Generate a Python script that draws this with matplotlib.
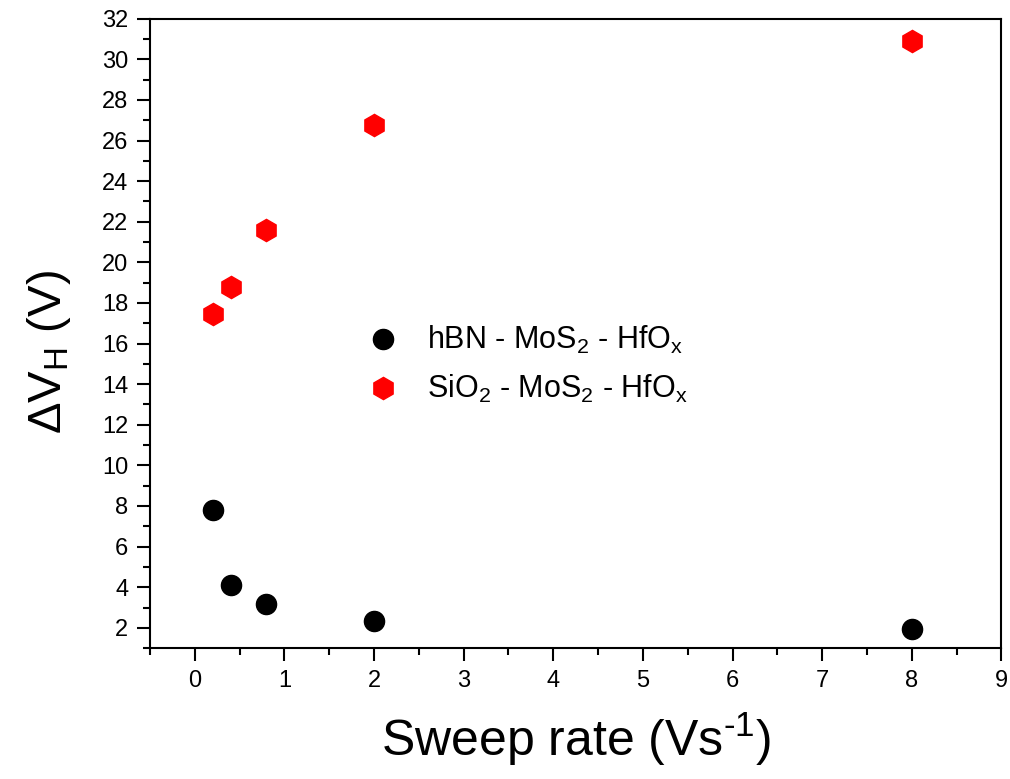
import matplotlib
matplotlib.use("Agg")
import matplotlib.pyplot as plt
from matplotlib.ticker import MultipleLocator

# ---- данные -----------------------------------------------------------------
sweep_rate = [0.2, 0.4, 0.8, 2.0, 8.0]
dv_hbn = [7.8, 4.1, 3.15, 2.35, 1.95]
dv_sio2 = [17.45, 18.8, 21.6, 26.75, 30.9]
label_hbn = r"hBN - MoS$_2$ - HfO$_x$"
label_sio2 = r"SiO$_2$ - MoS$_2$ - HfO$_x$"
# -----------------------------------------------------------------------------

plt.rcParams["font.family"] = ["Liberation Sans", "DejaVu Sans"]
plt.rcParams["mathtext.fontset"] = "custom"
plt.rcParams["mathtext.rm"] = "Liberation Sans"
plt.rcParams["mathtext.it"] = "Liberation Sans"

fig = plt.figure(figsize=(10.1, 7.79), dpi=100)
ax = fig.add_axes([0.1485, 0.168, 0.843, 0.808])

ax.plot(sweep_rate, dv_hbn, "o", color="black", markersize=14.5, label=label_hbn)
ax.plot(sweep_rate, dv_sio2, "h", color="red", markersize=16, label=label_sio2)

ax.set_xlim(-0.5, 9)
ax.set_ylim(1, 32)
ax.xaxis.set_major_locator(MultipleLocator(1))
ax.xaxis.set_minor_locator(MultipleLocator(0.5))
ax.yaxis.set_major_locator(MultipleLocator(2))
ax.yaxis.set_minor_locator(MultipleLocator(1))
ax.tick_params(which="major", direction="out", length=9.5, width=1.5,
               labelsize=17, pad=6)
ax.tick_params(which="minor", direction="out", length=5, width=1.5)
for s in ax.spines.values():
    s.set_linewidth(1.5)

ax.set_xlabel(r"Sweep rate (Vs$^{\text{-1}}$)", fontsize=36)
ax.xaxis.set_label_coords(0.5, -0.1)
ax.set_ylabel(r"$\Delta$V$_H$ (V)", fontsize=34)
ax.yaxis.set_label_coords(-0.09, 0.47)

ax.legend(loc="center left", bbox_to_anchor=(0.205, 0.45), frameon=False,
          fontsize=22, handletextpad=0.45, labelspacing=0.55)

fig.savefig("out.png", dpi=100)
